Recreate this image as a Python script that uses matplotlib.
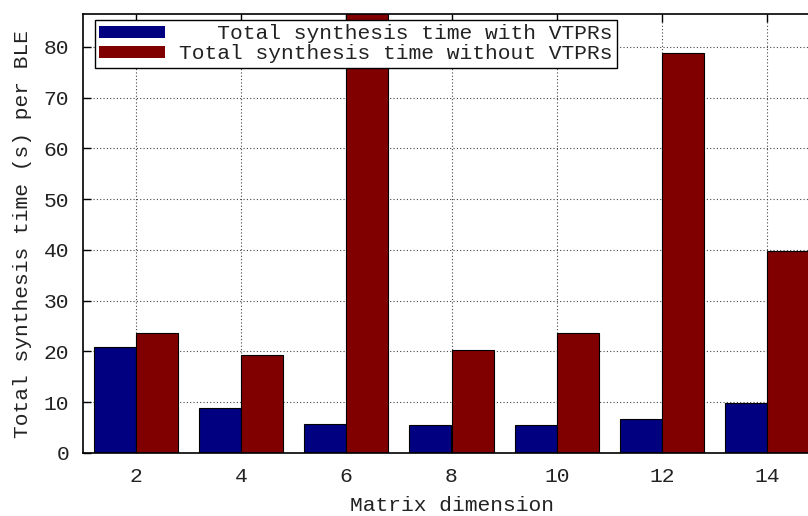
import matplotlib
matplotlib.use("Agg")
import matplotlib.pyplot as plt
import matplotlib.patches as mpatches
from matplotlib.legend_handler import HandlerPatch
import numpy as np

categories = ["2", "4", "6", "8", "10", "12", "14"]
with_vtprs = [20.9, 8.8, 5.7, 5.6, 5.5, 6.7, 9.8]
without_vtprs = [23.6, 19.3, 95.0, 20.3, 23.6, 78.8, 39.8]
yticks = [0, 10, 20, 30, 40, 50, 60, 70, 80]

plt.rcParams['font.family'] = ['Liberation Mono', 'DejaVu Sans Mono']
fs = 15.3
tc = "#222222"

fig = plt.figure(figsize=(8.08, 5.16), dpi=100)
ax = fig.add_axes([83/808, 63/516, (820-83)/808, (453-14)/516])

x = np.arange(len(categories))
w = 0.4
b1 = ax.bar(x - w/2, with_vtprs, width=w, color="#000080", edgecolor="black", linewidth=0.8,
            label="   Total synthesis time with VTPRs")
b2 = ax.bar(x + w/2, without_vtprs, width=w, color="#800000", edgecolor="black", linewidth=0.8,
            label="Total synthesis time without VTPRs")

ax.set_xlim(-0.5, 6.5)
ax.set_ylim(0, 86.5)
ax.set_xticks(x)
ax.set_xticklabels(categories)
ax.set_yticks(yticks)
ax.set_axisbelow(True)
ax.grid(True, linestyle=(0, (1, 2)), color="#444444", linewidth=0.8)
ax.tick_params(direction="in", length=6, width=1, top=True, right=True, labelsize=fs, pad=10,
               labelcolor=tc)
for s in ax.spines.values():
    s.set_linewidth(1.2)
ax.set_xlabel("Matrix dimension", fontsize=fs, labelpad=7, color=tc)
ax.set_ylabel("Total synthesis time (s) per BLE", fontsize=fs, labelpad=8, color=tc)


def make_patch(legend, orig_handle, xdescent, ydescent, width, height, fontsize):
    off = 7
    return mpatches.Rectangle((-xdescent + off, -ydescent - 1), width - off, height + 2)


leg = ax.legend(loc="upper left", bbox_to_anchor=(12/737, (453-20)/439), borderaxespad=0,
                fontsize=fs, frameon=True,
                fancybox=False, edgecolor="black", framealpha=1, handlelength=3.1,
                handleheight=0.5, borderpad=0.2, labelspacing=0.05, handletextpad=0.66,
                handler_map={mpatches.Rectangle: HandlerPatch(patch_func=make_patch)})
leg.get_frame().set_linewidth(1.0)
for t in leg.get_texts():
    t.set_color(tc)
for h in leg.legend_handles:
    h.set_linewidth(0)

fig.savefig("out.png", dpi=100)
